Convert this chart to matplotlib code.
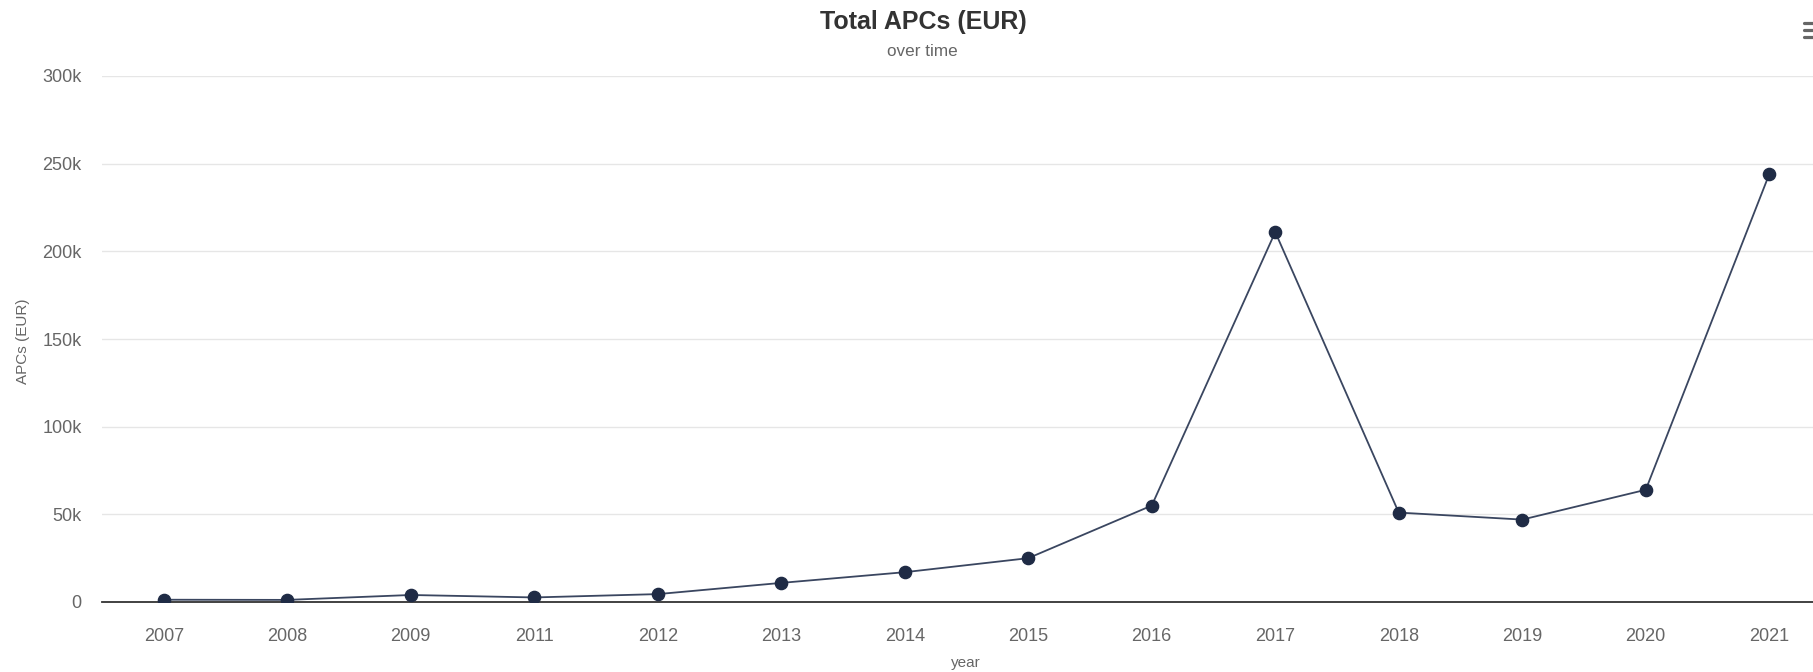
import matplotlib
matplotlib.use("Agg")
import matplotlib.pyplot as plt
from matplotlib.lines import Line2D
from matplotlib.ticker import FuncFormatter

years = ["2007", "2008", "2009", "2011", "2012", "2013", "2014", "2015",
         "2016", "2017", "2018", "2019", "2020", "2021"]
apcs_eur = [1300, 1200, 4000, 2600, 4500, 10900, 17000, 25000,
            55000, 211000, 51000, 47000, 64000, 244000]
y_ticks = [0, 50000, 100000, 150000, 200000, 250000, 300000]

plt.rcParams['font.family'] = ['Liberation Sans', 'DejaVu Sans']

W, H = 1813, 672
fig = plt.figure(figsize=(W / 100, H / 100), dpi=100)
ax = fig.add_axes([102 / W, 70 / H, 1729 / W, (602 - 76) / H])

x = list(range(len(years)))
ax.plot(x, apcs_eur, color="#3a4660", linewidth=1.3, zorder=3)
ax.plot(x, apcs_eur, linestyle="none", marker="o", markersize=8.8,
        color="#1f2b45", zorder=4)

ax.set_xlim(-0.5, len(years) - 0.5)
ax.set_ylim(0, 300000)
ax.set_yticks(y_ticks)
ax.yaxis.set_major_formatter(FuncFormatter(lambda v, p: "0" if v == 0 else f"{int(v/1000)}k"))
ax.set_xticks(x)
ax.set_xticklabels(years)

ax.grid(axis="y", color="#e6e6e6", linewidth=1)
ax.set_axisbelow(True)
for s in ["top", "right", "left"]:
    ax.spines[s].set_visible(False)
ax.spines["bottom"].set_color("#333333")
ax.spines["bottom"].set_linewidth(1.3)
ax.spines["bottom"].set_zorder(2)

ax.tick_params(axis="both", length=0, labelsize=13, labelcolor="#666666")
ax.tick_params(axis="x", pad=18.5)
ax.tick_params(axis="y", pad=14.5)

fig.text(966 / W, 1 - 663 / H, "year", ha="center", va="center",
         fontsize=11, color="#666666")
fig.text(23 / W, 1 - 341 / H, "APCs (EUR)", ha="center", va="center",
         rotation=90, fontsize=11, color="#666666")

fig.text(923 / W, 1 - 22 / H, "Total APCs (EUR)", ha="center", va="center",
         fontsize=18, fontweight="bold", color="#333333")
fig.text(922 / W, 1 - 51 / H, "over time", ha="center", va="center",
         fontsize=12.3, color="#666666")

# menu icon (top right)
for yy in [23, 30, 37]:
    fig.add_artist(Line2D([1804 / W, 1815 / W], [1 - yy / H, 1 - yy / H],
                          transform=fig.transFigure, color="#666666",
                          linewidth=2.3, solid_capstyle="round"))

fig.savefig("out.png", dpi=100, facecolor="white")
